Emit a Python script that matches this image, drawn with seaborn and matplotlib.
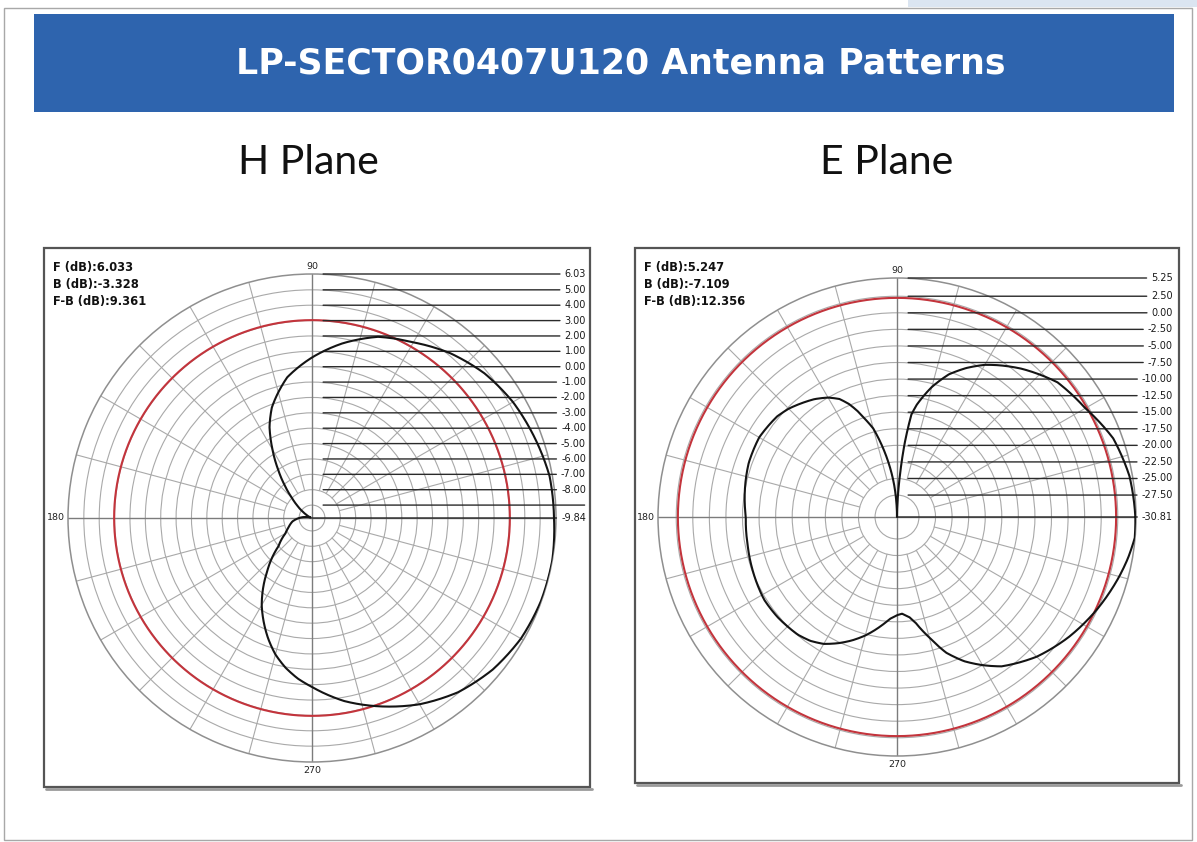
import numpy as np
import matplotlib
matplotlib.use("Agg")
import matplotlib.pyplot as plt
import seaborn as sns
from matplotlib.patches import Rectangle
from matplotlib.lines import Line2D

sns.set_theme(style="white")
plt.rcParams["font.family"] = ["DejaVu Sans"]

# ---------------- data ----------------
TITLE = "LP-SECTOR0407U120 Antenna Patterns"
plane_titles = ["H Plane", "E Plane"]

# H plane pattern (angle in degrees, gain in dB)
h_angles = [0, 10, 20, 30, 40, 50, 60, 70, 80, 90, 100, 110, 115, 120, 125, 130, 135,
            140, 145, 150, 160, 170, 180, 190, 200, 210, 220, 230, 240, 250, 255, 260,
            265, 270, 280, 290, 300, 310, 320, 330, 340, 350, 360]
h_gain = [5.90, 5.85, 5.55, 5.25, 4.80, 4.15, 3.35, 2.70, 1.70, 0.60, -0.55, -2.20, -3.30,
          -4.70, -6.00, -7.10, -8.00, -8.60, -9.05, -9.40, -9.75, -9.45, -9.00, -8.55,
          -8.25, -7.85, -7.00, -5.30, -3.30, -1.50, -0.65, 0.05, 0.65, 1.15, 2.25, 3.20,
          4.15, 4.95, 5.50, 5.85, 6.00, 6.03, 5.90]
h_ref = 3.03
h_range = (-9.84, 6.03)
h_rings = [-9, -8, -7, -6, -5, -4, -3, -2, -1, 0, 1, 2, 3, 4, 5]
h_tick_vals = [6.03, 5, 4, 3, 2, 1, 0, -1, -2, -3, -4, -5, -6, -7, -8, -9, -9.84]
h_tick_labels = ["6.03", "5.00", "4.00", "3.00", "2.00", "1.00", "0.00", "-1.00", "-2.00",
                 "-3.00", "-4.00", "-5.00", "-6.00", "-7.00", "-8.00", "", "-9.84"]
h_stats = ["F (dB):6.033", "B (dB):-3.328", "F-B (dB):9.361"]

# E plane pattern
e_angles = [0, 10, 20, 30, 40, 50, 56, 60, 65, 70, 75, 80, 82, 84, 86, 88, 90, 92, 95,
            100, 105, 108, 110, 113, 116, 120, 125, 130, 135, 140, 150, 160, 170, 180,
            190, 200, 212, 220, 230, 235, 240, 245, 250, 255, 262, 266, 270, 273, 277,
            280, 285, 290, 295, 300, 305, 315, 325, 335, 345, 350, 355, 360]
e_gain = [5.15, 4.80, 3.90, 2.00, 0.80, -1.60, -3.20, -4.30, -6.00, -7.90, -10.50,
          -13.60, -15.20, -19.50, -24.50, -28.50, -30.81, -29.00, -26.00, -21.50, -17.00,
          -15.30, -14.00, -12.30, -11.00, -10.00, -9.10, -8.40, -7.70, -7.20, -6.80, -7.00,
          -7.50, -8.00, -7.90, -7.60, -7.20, -7.30, -7.60, -8.00, -8.70, -9.80, -11.00,
          -12.30, -14.30, -15.40, -16.00, -16.20, -15.60, -14.60, -12.00, -9.00, -6.80,
          -5.00, -3.30, -1.00, 0.80, 2.40, 3.90, 4.60, 5.20, 5.15]
e_ref = 2.25
e_range = (-30.81, 5.25)
e_rings = [-27.5, -25, -22.5, -20, -17.5, -15, -12.5, -10, -7.5, -5, -2.5, 0, 2.5]
e_tick_vals = [5.25, 2.5, 0, -2.5, -5, -7.5, -10, -12.5, -15, -17.5, -20, -22.5, -25,
               -27.5, -30.81]
e_tick_labels = ["5.25", "2.50", "0.00", "-2.50", "-5.00", "-7.50", "-10.00", "-12.50",
                 "-15.00", "-17.50", "-20.00", "-22.50", "-25.00", "-27.50", "-30.81"]
e_stats = ["F (dB):5.247", "B (dB):-7.109", "F-B (dB):12.356"]

# ---------------- figure ----------------
W, H = 1197, 842
fig = plt.figure(figsize=(W / 100, H / 100), dpi=100)
fig.patch.set_facecolor("white")


def fx(x):
    return x / W


def fy(y):
    return 1 - y / H


def frect(x0, y0, x1, y1, **kw):
    r = Rectangle((fx(x0), fy(y1)), (x1 - x0) / W, (y1 - y0) / H,
                  transform=fig.transFigure, **kw)
    fig.add_artist(r)
    return r


# slide frame and banner
frect(908, 0, 1197, 7, facecolor="#dbe5f1", edgecolor="none")
frect(4, 8, 1192, 840, fill=False, edgecolor="#a8a8a8", lw=1.0)
frect(34, 14, 1174, 112, facecolor="#2e64ae", edgecolor="none")
fig.text(fx(621), fy(64), TITLE, color="white", fontsize=25, fontweight="bold",
         ha="center", va="center")

GRID = "#a9a9a9"
AXIS = "#7c7c7c"


def draw_panel(box, center, radius, angles, gain, ref, rrange, rings, tick_vals,
               tick_labels, stats, inner_ring, label_dx, title, title_x):
    bx0, by0, bx1, by1 = box
    # panel box with shadow
    fig.add_artist(Line2D([fx(bx0 + 2), fx(bx1 + 2)], [fy(by1 + 2), fy(by1 + 2)],
                          transform=fig.transFigure, color="#9a9a9a", lw=2))
    frect(bx0, by0, bx1, by1, fill=False, edgecolor="#555555", lw=1.6)
    fig.text(fx(title_x), fy(162), title, fontsize=29.5, family=["Lato", "DejaVu Sans"],
             ha="center", va="center", color="#111111")

    cx, cy = center
    rmin, rmax = rrange
    ax = fig.add_axes([fx(cx - radius), fy(cy + radius), 2 * radius / W, 2 * radius / H],
                      projection="polar")
    ax.set_facecolor("white")
    ax.set_ylim(rmin, rmax)
    ax.set_xticks([])
    ax.set_yticks(rings)
    ax.set_yticklabels([])
    ax.yaxis.grid(True, color=GRID, lw=0.8)
    ax.xaxis.grid(False)
    ax.spines["polar"].set_color("#8f8f8f")
    ax.spines["polar"].set_linewidth(1.1)

    # spokes every 15 degrees
    for d in range(0, 360, 15):
        t = np.deg2rad(d)
        if d % 90 == 0:
            ax.plot([t, t], [rmin, rmax], color=AXIS, lw=1.0, zorder=2)
        else:
            ax.plot([t, t], [inner_ring, rmax], color=GRID, lw=0.8, zorder=1)

    # -3 dB reference circle
    tt = np.linspace(0, 2 * np.pi, 721)
    ax.plot(tt, np.full_like(tt, ref), color="#c3343c", lw=1.5, zorder=3)

    # measured pattern (drawn along polar arcs between the measured points)
    n_before = len(ax.lines)
    sns.lineplot(x=np.deg2rad(angles), y=gain, ax=ax, sort=False, estimator=None,
                 color="#141414", lw=1.5, zorder=4)
    for ln in ax.lines[n_before:]:
        ln.get_path()._interpolation_steps = 40
    ax.set_xlabel("")
    ax.set_ylabel("")
    ax.set_xticks([])

    # level labels with leader lines
    for v, lab in zip(tick_vals, tick_labels):
        at_center = (v == rmin)
        ax.annotate(lab, xy=(np.pi / 2, v), xycoords="data",
                    xytext=(label_dx, 0), textcoords="offset pixels",
                    ha="right", va="center", fontsize=7, color="#1a1a1a",
                    annotation_clip=False,
                    arrowprops=dict(arrowstyle="-", color="#2a2a2a", lw=1.0,
                                    shrinkA=1, shrinkB=0 if at_center else 8))

    # angle labels
    ax.annotate("90", xy=(np.pi / 2, rmax), xytext=(0, 3), textcoords="offset pixels",
                ha="center", va="bottom", fontsize=6.8, color="#222222",
                annotation_clip=False)
    ax.annotate("270", xy=(3 * np.pi / 2, rmax), xytext=(0, -4),
                textcoords="offset pixels", ha="center", va="top", fontsize=6.8,
                color="#222222", annotation_clip=False)
    ax.annotate("180", xy=(np.pi, rmax), xytext=(-3, 0), textcoords="offset pixels",
                ha="right", va="center", fontsize=6.8, color="#222222",
                annotation_clip=False)

    # statistics text
    for i, s in enumerate(stats):
        fig.text(fx(bx0 + 9), fy(267 + 17.5 * i), s, fontsize=8.3, fontweight="bold",
                 ha="left", va="center", color="#111111")
    return ax


draw_panel((44, 248, 590, 787), (312, 518), 244, h_angles, h_gain, h_ref, h_range,
           h_rings, h_tick_vals, h_tick_labels, h_stats, -8, 274, plane_titles[0], 308)
draw_panel((635, 248, 1179, 783), (897, 517), 239, e_angles, e_gain, e_ref, e_range,
           e_rings, e_tick_vals, e_tick_labels, e_stats, -25, 276, plane_titles[1], 887)

fig.savefig("out.png", dpi=100, facecolor="white")
